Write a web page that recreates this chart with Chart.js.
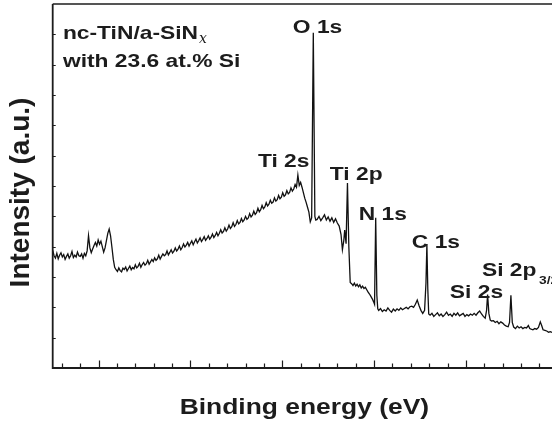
<!DOCTYPE html>
<html>
<head>
<meta charset="utf-8">
<script src="https://cdn.jsdelivr.net/npm/chart.js@4/dist/chart.umd.min.js"></script>
<style>
  html, body { margin: 0; padding: 0; background: #ffffff; }
  #wrap { width: 552px; height: 424px; position: relative; }
</style>
</head>
<body>
<div id="wrap"><canvas id="c" width="552" height="424"></canvas></div>
<script>
// ---- Data (binding energy in eV, intensity in arbitrary units) ----
const bindingEnergy = [
  1100,1097,1094,1091,1088,1085,1082,1079,1076,1073,1070,1067,1064,1061,1058,1055,1052,1049,1046,1043,
  1040,1037,1034,1031,1028,1025,1022,1019,1016,1013,1010,1007,1004,1001,998,995,992,989,986,983,
  980,977,974,971,968,965,
  962,959,956,953,950,947,944,941,938,935,932,929,926,923,920,917,914,911,908,905,
  902,899,896,893,890,887,884,881,878,875,872,869,866,863,860,857,854,851,848,845,
  842,839,836,833,830,827,824,821,818,815,812,809,806,803,800,797,794,791,788,785,
  782,779,776,773,770,767,764,761,758,755,752,749,746,743,740,737,734,731,728,725,
  722,719,716,713,710,707,704,701,698,695,692,689,686,683,680,677,674,671,668,665,
  662,659,656,653,650,647,644,641,638,635,632,629,626,623,620,617,614,611,608,605,
  602,599,596,593,590,587,584,581,578,575,572,569,566,563,560,557,554,551,548,545,
  542,539,536,532.4,529,527,
  524,520,516,512,508,504,500,496,492,488,484,480,476,472,469,466,464,461,458,455,
  452,449,446,443,440,437,434,431,428,425,422,419,416,413,410,407,404,401,399,396.5,
  394,392,
  390,386,382,378,374,370,366,362,358,354,350,346,342,338,334,330,326,322,318,314,
  310,306,302,298,294,290,287,285,283,281,
  278,274,270,266,262,258,254,250,246,242,238,234,230,226,222,218,214,210,206,202,
  198,194,190,186,182,178,174,170,166,162,158,155,152.8,150,147,144,
  140,136,132,128,124,120,116,112,108,105,102,99,96,92,88,84,80,76,72,68,
  64,61,58,54,50,46,42,38,35,32,28,24,20,16,12.5
];
const intensity = [
  3.88,3.70,3.62,3.78,3.60,3.72,3.80,3.66,3.74,3.58,3.68,3.76,3.62,3.70,3.84,3.64,3.72,3.66,3.82,3.70,
  3.68,3.76,3.62,3.78,3.70,3.86,4.36,3.96,3.80,3.92,4.04,4.14,4.02,4.22,4.08,4.18,4.00,3.82,3.96,4.20,
  4.44,4.58,4.36,3.98,3.58,3.32,
  3.24,3.18,3.30,3.21,3.17,3.29,3.25,3.33,3.20,3.28,3.36,3.24,3.31,3.27,3.40,3.30,3.35,3.45,3.32,3.41,
  3.48,3.39,3.44,3.55,3.42,3.50,3.58,3.51,3.63,3.55,3.60,3.72,3.59,3.68,3.76,3.70,3.74,3.86,3.73,3.81,
  3.90,3.79,3.85,3.96,3.86,3.92,4.02,3.90,3.97,4.09,3.99,4.05,4.14,4.02,4.11,4.19,4.06,4.16,4.25,4.12,
  4.20,4.29,4.17,4.24,4.33,4.21,4.27,4.36,4.25,4.31,4.42,4.30,4.37,4.47,4.36,4.44,4.56,4.45,4.50,4.62,
  4.51,4.58,4.71,4.60,4.66,4.79,4.67,4.73,4.86,4.75,4.80,4.93,4.82,4.88,5.00,4.90,4.95,5.09,4.98,5.04,
  5.17,5.06,5.12,5.27,5.15,5.22,5.36,5.25,5.31,5.45,5.34,5.40,5.53,5.43,5.47,5.61,5.50,5.55,5.69,5.58,
  5.63,5.78,5.66,5.71,5.85,5.74,5.79,5.94,5.83,5.90,6.05,5.96,6.36,6.02,6.12,5.96,5.78,5.60,5.46,5.30,
  5.14,4.82,4.95,11.05,5.00,4.88,
  4.90,5.00,4.86,4.95,5.05,4.88,4.98,4.84,4.95,4.80,4.92,4.78,4.68,4.40,3.90,4.20,4.55,4.10,6.10,4.00,
  2.82,2.78,2.72,2.80,2.70,2.76,2.68,2.74,2.64,2.70,2.62,2.66,2.58,2.50,2.44,2.36,2.28,2.18,2.10,4.95,
  2.40,1.95,
  1.90,1.96,1.86,1.92,1.88,1.98,1.90,1.84,1.94,1.88,1.95,1.90,1.98,1.92,1.96,2.00,1.95,2.02,2.04,2.00,
  2.10,2.24,2.05,1.90,1.80,1.90,2.80,4.09,2.60,1.78,
  1.74,1.80,1.70,1.76,1.82,1.72,1.78,1.70,1.76,1.84,1.74,1.78,1.70,1.80,1.74,1.82,1.72,1.76,1.80,1.70,
  1.76,1.72,1.78,1.74,1.80,1.74,1.82,1.88,1.78,1.70,1.64,1.90,2.42,1.80,1.58,1.55,
  1.56,1.50,1.54,1.46,1.52,1.48,1.42,1.38,1.36,1.50,2.40,1.50,1.35,1.30,1.38,1.32,1.36,1.30,1.34,1.32,
  1.40,1.30,1.28,1.26,1.30,1.28,1.34,1.52,1.40,1.26,1.24,1.22,1.18,1.20,1.17
];

// Axis ranges and ticks (eV)
const xRange = [12.5, 1100];
const yRange = [0, 12];
const xMajorTicks = [1000, 800, 600, 400, 200];
const xMinorTicks = [1080,1040,960,920,880,840,760,720,680,640,560,520,480,440,360,320,280,240,160,120,80,40];
const yTicks = [1,2,3,4,5,6,7,8,9,10,11];

// Peak labels anchored at (energy, intensity) of their left baseline
const peakLabels = ['O 1s', 'Ti 2s', 'Ti 2p', 'N 1s', 'C 1s', 'Si 2s', 'Si 2p'];
const peakLabelEnergy = [577, 653, 496.5, 433.5, 317.7, 235, 165];
const peakLabelIntensity = [11.05, 6.63, 6.20, 4.88, 3.96, 2.31, 3.02];
const sampleLine1 = 'nc-TiN/a-SiN';
const sampleLine2 = 'with 23.6 at.% Si';
const xTitle = 'Binding energy (eV)';
const yTitle = 'Intensity (a.u.)';

const points = bindingEnergy.map((e, i) => ({ x: e, y: intensity[i] }));
const INK = '#1c1c1c';
const STRETCH = 1.2;

function txt(ctx, s, x, y, size, opt) {
  opt = opt || {};
  const st = opt.stretch === undefined ? STRETCH : opt.stretch;
  ctx.save();
  ctx.translate(x, y);
  if (opt.rotate) ctx.rotate(-Math.PI / 2);
  ctx.scale(st, 1);
  ctx.font = (opt.style || 'bold') + ' ' + size + 'px ' + (opt.family || '"Liberation Sans", Arial, sans-serif');
  ctx.fillStyle = INK;
  ctx.textAlign = opt.align || 'left';
  ctx.textBaseline = 'alphabetic';
  ctx.fillText(s, 0, 0);
  const w = ctx.measureText(s).width * st;
  ctx.restore();
  return w;
}

const decor = {
  id: 'decor',
  afterDraw(chart) {
    const ctx = chart.ctx;
    const xs = chart.scales.x, ys = chart.scales.y;
    const a = chart.chartArea;
    ctx.save();
    ctx.strokeStyle = INK;
    ctx.lineWidth = 1.8;
    ctx.beginPath();
    ctx.moveTo(a.left, a.top); ctx.lineTo(a.left, a.bottom); ctx.lineTo(chart.width, a.bottom);
    ctx.stroke();
    ctx.lineWidth = 1.5;
    ctx.beginPath();
    ctx.moveTo(a.left, a.top); ctx.lineTo(chart.width, a.top);
    ctx.stroke();
    ctx.lineWidth = 1.2;
    ctx.beginPath();
    xMajorTicks.forEach(v => { const p = Math.round(xs.getPixelForValue(v)) + 0.5; ctx.moveTo(p, a.bottom); ctx.lineTo(p, a.bottom - 7.5); });
    xMinorTicks.forEach(v => { const p = Math.round(xs.getPixelForValue(v)) + 0.5; ctx.moveTo(p, a.bottom); ctx.lineTo(p, a.bottom - 4.5); });
    yTicks.forEach(v => { const p = Math.round(ys.getPixelForValue(v)) + 0.5; ctx.moveTo(a.left, p); ctx.lineTo(a.left + 3, p); });
    ctx.stroke();
    ctx.restore();

    peakLabels.forEach((s, i) => {
      const x = xs.getPixelForValue(peakLabelEnergy[i]);
      const y = ys.getPixelForValue(peakLabelIntensity[i]);
      const w = txt(ctx, s, x, y, 19);
      if (s === 'Si 2p') txt(ctx, '3/2', x + w + 2.5, y + 7.5, 11.5);
    });
    const lx = xs.getPixelForValue(1077.8);
    const w1 = txt(ctx, sampleLine1, lx, ys.getPixelForValue(10.84), 19);
    txt(ctx, 'x', lx + w1 + 1, ys.getPixelForValue(10.84) + 3.5, 14, { style: 'italic', family: '"DejaVu Serif", "Liberation Serif", serif', stretch: 1 });
    txt(ctx, sampleLine2, lx, ys.getPixelForValue(9.93), 19);

    txt(ctx, xTitle, (a.left + a.right) / 2 + 2, 414, 22, { align: 'center' });
    txt(ctx, yTitle, 29, 192.5, 28, { align: 'center', rotate: true, stretch: 1 });
  }
};

new Chart(document.getElementById('c'), {
  type: 'line',
  data: {
    datasets: [{
      data: points,
      borderColor: '#111111',
      borderWidth: 1.3,
      pointRadius: 0,
      tension: 0,
      fill: false
    }]
  },
  options: {
    responsive: false,
    animation: false,
    devicePixelRatio: 1,
    layout: { padding: { left: 52.7, right: 0, top: 4, bottom: 56 } },
    plugins: { legend: { display: false }, tooltip: { enabled: false } },
    scales: {
      x: {
        type: 'linear', reverse: true, min: xRange[0], max: xRange[1],
        ticks: { display: false }, grid: { display: false, drawTicks: false },
        border: { display: false }, title: { display: false }
      },
      y: {
        type: 'linear', min: yRange[0], max: yRange[1],
        ticks: { display: false }, grid: { display: false, drawTicks: false },
        border: { display: false }, title: { display: false }
      }
    }
  },
  plugins: [decor]
});
</script>
</body>
</html>
